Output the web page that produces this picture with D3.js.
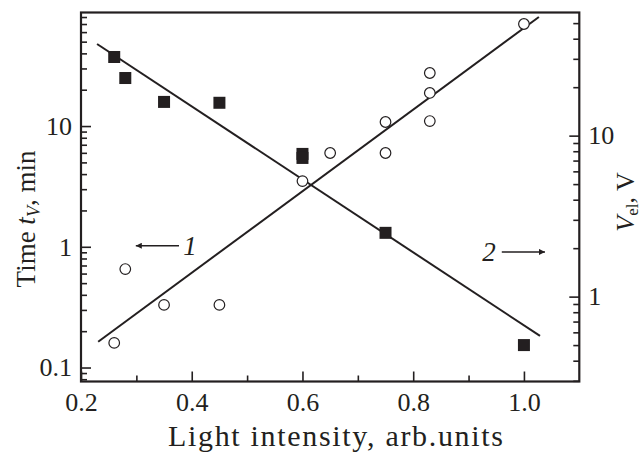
<!DOCTYPE html>
<html>
<head>
<meta charset="utf-8">
<script src="https://cdn.jsdelivr.net/npm/d3@7"></script>
<style>
  body { margin: 0; background: #fff; }
  text { font-family: "Liberation Serif", "Times New Roman", serif; fill: #231f20; }
</style>
</head>
<body>
<div id="chart"></div>
<script>
// Curve 1: open circles, time t_V (left axis)
const circleX = [0.26, 0.28, 0.35, 0.45, 0.60, 0.65, 0.75, 0.75, 0.83, 0.83, 0.83, 1.00];
const circleY = [0.16, 0.654, 0.33, 0.33, 3.5, 5.98, 10.8, 5.98, 27.5, 18.8, 11.0, 70.0];
// Curve 2: filled squares, V_el (right axis)
const squareX = [0.26, 0.28, 0.35, 0.45, 0.60, 0.60, 0.75, 1.00];
const squareY = [30.8, 22.8, 16.2, 16.0, 7.7, 7.27, 2.49, 0.50];
// fitted straight lines (on log scale)
const fit1X = [0.231, 1.027];
const fit1Y = [0.1636, 80.0];
const fit2X = [0.229, 1.029];
const fit2Y = [37.1, 0.570];

// ticks
const xMajor = [0.2, 0.4, 0.6, 0.8, 1.0];
const xMinor = [0.3, 0.5, 0.7, 0.9];
const leftMajor = [0.1, 1, 10];
const leftMinor = [0.08, 0.09, 0.2, 0.3, 0.4, 0.5, 0.6, 0.7, 0.8, 0.9,
                   2, 3, 4, 5, 6, 7, 8, 9, 20, 30, 40, 50, 60, 70, 80];
const rightMajor = [1, 10];
const rightMinor = [0.3, 0.4, 0.5, 0.6, 0.7, 0.8, 0.9, 2, 3, 4, 5, 6, 7, 8, 9, 20, 30, 40, 50];

// arrow annotations: label, label x, arrow from x, arrow to x, y value, axis
const notes = [
  { label: "1", lx: 0.397, x0: 0.377, x1: 0.299, y: 1.02, axis: "left" },
  { label: "2", lx: 0.937, x0: 0.960, x1: 1.038, y: 1.896, axis: "right" }
];

const W = 644, H = 452;
const margin = { top: 12.5, right: 64.7, bottom: 70.5, left: 81 };
const width = W - margin.left - margin.right,
      height = H - margin.top - margin.bottom;

const svg = d3.select("#chart").append("svg")
    .attr("width", W).attr("height", H);

const defs = svg.append("defs");
defs.append("marker")
    .attr("id", "head")
    .attr("viewBox", "0 0 10 10")
    .attr("refX", 10).attr("refY", 5)
    .attr("markerWidth", 9).attr("markerHeight", 6)
    .attr("markerUnits", "userSpaceOnUse")
    .attr("orient", "auto")
  .append("path")
    .attr("d", "M0,0L10,5L0,10Z")
    .attr("fill", "#231f20");

const g = svg.append("g")
    .attr("transform", `translate(${margin.left},${margin.top})`);

const x = d3.scaleLinear().domain([0.2, 1.1]).range([0, width]);
const yL = d3.scaleLog().domain([0.0766, 87.2]).range([height, 0]);
const yR = d3.scaleLog().domain([0.297, 58.2]).range([height, 0]);

function styleAxis(sel) {
  sel.select(".domain").remove();
  sel.selectAll(".tick line").attr("stroke", "#231f20").attr("stroke-width", 1.6);
  sel.selectAll(".tick text").attr("font-size", 26)
      .attr("font-family", "Liberation Serif").attr("fill", "#231f20");
}

// bottom axis
g.append("g").attr("transform", `translate(0,${height})`)
  .call(d3.axisBottom(x).tickValues(xMinor).tickSize(-6).tickFormat(""))
  .call(styleAxis);
g.append("g").attr("transform", `translate(0,${height})`)
  .call(d3.axisBottom(x).tickValues(xMajor).tickSize(-10).tickPadding(11)
        .tickFormat(d3.format(".1f")))
  .call(styleAxis);

// left axis
g.append("g")
  .call(d3.axisLeft(yL).tickValues(leftMinor).tickSize(-6).tickFormat(""))
  .call(styleAxis);
g.append("g")
  .call(d3.axisLeft(yL).tickValues(leftMajor).tickSize(-10).tickPadding(9)
        .tickFormat(d => d < 1 ? "0.1" : String(d)))
  .call(styleAxis);

// right axis
g.append("g").attr("transform", `translate(${width},0)`)
  .call(d3.axisRight(yR).tickValues(rightMinor).tickSize(-6).tickFormat(""))
  .call(styleAxis);
g.append("g").attr("transform", `translate(${width},0)`)
  .call(d3.axisRight(yR).tickValues(rightMajor).tickSize(-10).tickPadding(9)
        .tickFormat(d => String(d)))
  .call(styleAxis);

// frame
g.append("rect")
  .attr("width", width).attr("height", height)
  .attr("fill", "none").attr("stroke", "#231f20").attr("stroke-width", 2.2);

// fitted lines
const line = (yScale) => d3.line().x(d => x(d[0])).y(d => yScale(d[1]));
g.append("path")
  .datum(d3.zip(fit1X, fit1Y))
  .attr("d", line(yL))
  .attr("fill", "none").attr("stroke", "#231f20").attr("stroke-width", 2);
g.append("path")
  .datum(d3.zip(fit2X, fit2Y))
  .attr("d", line(yR))
  .attr("fill", "none").attr("stroke", "#231f20").attr("stroke-width", 2);

// squares
const sq = 12;
g.selectAll("rect.sq")
  .data(d3.zip(squareX, squareY))
  .join("rect")
  .attr("class", "sq")
  .attr("x", d => x(d[0]) - sq / 2)
  .attr("y", d => yR(d[1]) - sq / 2)
  .attr("width", sq).attr("height", sq)
  .attr("fill", "#231f20");

// circles
g.selectAll("circle")
  .data(d3.zip(circleX, circleY))
  .join("circle")
  .attr("cx", d => x(d[0]))
  .attr("cy", d => yL(d[1]))
  .attr("r", 5.3)
  .attr("fill", "#fff")
  .attr("stroke", "#231f20")
  .attr("stroke-width", 1.2);

// arrows with curve numbers
notes.forEach(n => {
  const ys = n.axis === "left" ? yL : yR;
  const yy = ys(n.y);
  g.append("line")
    .attr("x1", x(n.x0)).attr("x2", x(n.x1))
    .attr("y1", yy).attr("y2", yy)
    .attr("stroke", "#231f20").attr("stroke-width", 1.5)
    .attr("marker-end", "url(#head)");
  g.append("text")
    .attr("x", x(n.lx)).attr("y", yy)
    .attr("dy", "0.35em")
    .attr("text-anchor", "middle")
    .attr("font-size", 27)
    .attr("font-style", "italic")
    .text(n.label);
});

// axis titles
svg.append("text")
  .attr("x", 335.5).attr("y", 446)
  .attr("text-anchor", "middle")
  .attr("font-size", 30)
  .attr("textLength", 335)
  .attr("lengthAdjust", "spacing")
  .text("Light intensity, arb.units");

const lt = svg.append("text")
  .attr("transform", "translate(35,219) rotate(-90)")
  .attr("text-anchor", "middle")
  .attr("font-size", 27);
lt.append("tspan").text("Time ");
lt.append("tspan").attr("font-style", "italic").text("t");
lt.append("tspan").attr("font-style", "italic").attr("font-size", 18).attr("dy", 5).text("V");
lt.append("tspan").attr("dy", -5).text(", min");

const rt = svg.append("text")
  .attr("transform", "translate(634,202) rotate(-90)")
  .attr("text-anchor", "middle")
  .attr("font-size", 26);
rt.append("tspan").attr("font-style", "italic").text("V");
rt.append("tspan").attr("font-size", 17).attr("dy", 4).text("el");
rt.append("tspan").attr("dy", -4).text(", V");
</script>
</body>
</html>
